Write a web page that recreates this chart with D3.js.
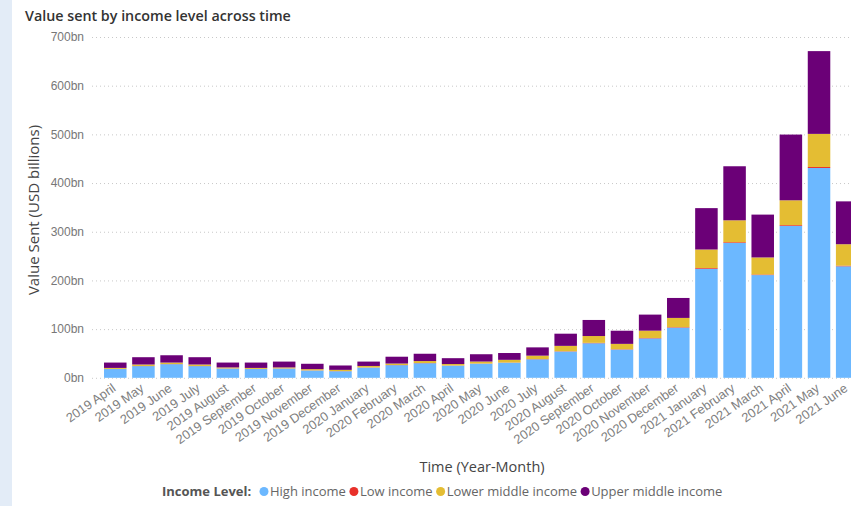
<!DOCTYPE html>
<html>
<head>
<meta charset="utf-8">
<script src="https://cdn.jsdelivr.net/npm/d3@7"></script>
<style>
  body { margin: 0; background: #fff; overflow: hidden; }
  svg { display: block; font-family: "Open Sans", "Noto Sans", sans-serif; }
</style>
</head>
<body>
<div id="chart"></div>
<script>
// months on the x axis
const months = ["2019 April", "2019 May", "2019 June", "2019 July", "2019 August", "2019 September",
    "2019 October", "2019 November", "2019 December", "2020 January", "2020 February", "2020 March",
    "2020 April", "2020 May", "2020 June", "2020 July", "2020 August", "2020 September", "2020 October",
    "2020 November", "2020 December", "2021 January", "2021 February", "2021 March", "2021 April",
    "2021 May", "2021 June"];

// values in USD billions
const highIncome = [18, 24, 28, 24, 19, 18, 19, 15, 13.5, 21, 26, 30, 25, 29, 31, 38, 54, 71, 58, 81, 103, 224, 277, 211, 312, 431, 229];
const lowIncome = [0.3, 0.3, 0.3, 0.3, 0.3, 0.3, 0.3, 0.3, 0.3, 0.3, 0.3, 0.4, 0.3, 0.4, 0.4, 0.5, 0.6, 0.8, 0.7, 0.8, 1, 1.5, 1.5, 1.2, 1.6, 2, 1.4];
const lowerMiddle = [2, 3, 3, 3, 2, 2, 2, 2.5, 2.5, 3, 3, 4, 3, 4, 5.5, 7, 11, 14, 11, 15, 19, 38, 45, 35, 51, 68, 44];
const upperMiddle = [11, 15, 15, 15, 10, 11, 12, 11, 9, 9, 14, 15, 12, 15, 14, 17, 25, 33, 27, 33, 41, 85, 111, 88, 135, 170, 88];

const seriesNames = ["High income", "Low income", "Lower middle income", "Upper middle income"];
const yTicks = [0, 100, 200, 300, 400, 500, 600, 700];

const colors = ["#6cb8ff", "#e8302a", "#e4bd33", "#6b0077"];

const W = 851, H = 506;
const margin = {top: 37, left: 101.2, bottom: 128};

const svg = d3.select("#chart").append("svg")
    .attr("width", W)
    .attr("height", H);

// light side strip
svg.append("rect")
    .attr("x", 0).attr("y", 0)
    .attr("width", 12).attr("height", H)
    .attr("fill", "#e3ecf7");

const rows = months.map((m, i) => ({
    month: m,
    "High income": highIncome[i],
    "Low income": lowIncome[i],
    "Lower middle income": lowerMiddle[i],
    "Upper middle income": upperMiddle[i]
}));

const step = 28.15;
const x = d3.scaleBand()
    .domain(months)
    .range([margin.left, margin.left + step * months.length])
    .paddingInner(0.2)
    .paddingOuter(0.1);

const y = d3.scaleLinear()
    .domain([0, 700])
    .range([377.8, margin.top]);

// gridlines + tick labels
const yAxis = svg.append("g")
    .attr("transform", "translate(92,0)")
    .call(d3.axisLeft(y).tickValues(yTicks).tickSize(-(W - 92)).tickFormat(d => d + "bn"));
yAxis.select(".domain").remove();
yAxis.selectAll(".tick line")
    .attr("stroke", "#c8c8c8")
    .attr("stroke-dasharray", "1,3");
yAxis.selectAll(".tick text")
    .attr("x", -8)
    .attr("fill", "#777")
    .style("font-size", "12px");

// stacked bars
const stack = d3.stack().keys(seriesNames);
const layers = stack(rows);

svg.append("g").selectAll("g")
    .data(layers)
    .join("g")
    .attr("fill", (d, i) => colors[i])
    .selectAll("rect")
    .data(d => d)
    .join("rect")
    .attr("x", d => x(d.data.month))
    .attr("y", d => y(d[1]))
    .attr("width", x.bandwidth())
    .attr("height", d => y(d[0]) - y(d[1]));

// x axis labels
const xAxis = svg.append("g")
    .attr("transform", "translate(0,380)")
    .call(d3.axisBottom(x).tickSize(0));
xAxis.select(".domain").remove();
xAxis.selectAll(".tick text")
    .attr("fill", "#808080")
    .style("font-size", "12.8px")
    .attr("text-anchor", "end")
    .attr("dy", "0.35em")
    .attr("transform", "translate(-3,4) rotate(-35)");

// titles
svg.append("text")
    .attr("x", 25).attr("y", 21)
    .attr("fill", "#333")
    .style("font-size", "14.3px")
    .style("font-weight", "600")
    .text("Value sent by income level across time");

svg.append("text")
    .attr("transform", "translate(39,210) rotate(-90)")
    .attr("text-anchor", "middle")
    .attr("fill", "#444")
    .style("font-size", "15px")
    .text("Value Sent (USD billions)");

svg.append("text")
    .attr("x", 482).attr("y", 472)
    .attr("text-anchor", "middle")
    .attr("fill", "#444")
    .style("font-size", "14.5px")
    .text("Time (Year-Month)");

// legend
const legend = svg.append("g").attr("transform", "translate(162,496)");
legend.append("text")
    .attr("fill", "#555")
    .style("font-size", "13px")
    .style("font-weight", "700")
    .text("Income Level:");

let lx = 98;
seriesNames.forEach((name, i) => {
    legend.append("circle")
        .attr("cx", lx + 4).attr("cy", -4.5)
        .attr("r", 4.5)
        .attr("fill", colors[i]);
    const t = legend.append("text")
        .attr("x", lx + 10)
        .attr("fill", "#666")
        .style("font-size", "13px")
        .text(name);
    lx += 10 + t.node().getComputedTextLength() + 4;
});
</script>
</body>
</html>
